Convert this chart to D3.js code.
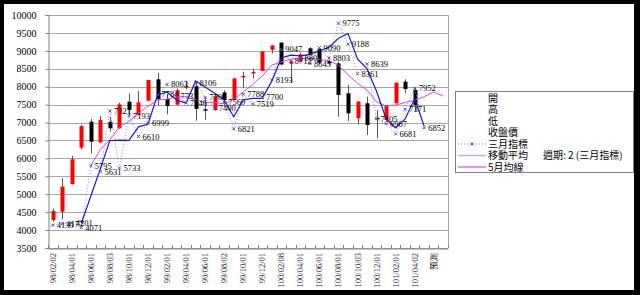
<!DOCTYPE html>
<html>
<head>
<meta charset="utf-8">
<script src="https://cdn.jsdelivr.net/npm/d3@7"></script>
<style>
  body { margin: 0; background: #000; }
  svg { display: block; }
</style>
</head>
<body>
<svg id="chart" width="640" height="295"></svg>
<script>
// month categories (every other one is labelled on the axis)
const categories = [
  '98/02/02', '98/03/02', '98/04/01', '98/05/04', '98/06/01', '98/07/01', '98/08/03', '98/09/01',
  '98/10/01', '98/11/02', '98/12/01', '99/01/04', '99/02/01', '99/03/01', '99/04/01', '99/05/03',
  '99/06/01', '99/07/01', '99/08/02', '99/09/01', '99/10/01', '99/11/01', '99/12/01', '100/01/03',
  '100/02/08', '100/03/01', '100/04/01', '100/05/03', '100/06/01', '100/07/01', '100/08/01', '100/09/01',
  '100/10/03', '100/11/01', '100/12/01', '101/01/02', '101/02/01', '101/03/01', '101/04/02', '101/05/02',
  '預測', ''
];
const openVals  = [4281, 4513, 5285, 6300, 7024, 6450, 7020, 6840, 7582, 7211, 7609, 8206, 7660, 7500, 8000, 8010, 7370, 7350, 7840, 7630, 8290, 8390, 8440, 9030, 9230, 8640, 8700, 9070, 9050, 8700, 8650, 7816, 7118, 7537, 7130, 7071, 7537, 8140, 7908];
const highVals  = [4600, 5450, 6070, 6930, 7100, 7180, 7160, 7550, 7816, 7880, 8190, 8390, 7800, 7950, 8170, 8150, 7700, 7780, 7900, 8250, 8420, 8510, 8990, 9160, 9240, 8720, 8950, 9100, 9070, 8760, 8700, 8047, 7600, 7720, 7350, 7489, 8112, 8206, 7980];
const lowVals   = [4230, 4300, 5270, 6250, 6130, 6430, 6750, 6830, 7210, 7200, 7600, 7490, 7230, 7480, 7930, 7050, 7080, 7330, 7440, 7620, 7980, 8230, 8430, 8930, 8600, 8100, 8690, 8880, 8640, 8600, 7160, 7043, 6950, 6652, 6559, 7060, 7530, 7816, 7300];
const closeVals = [4532, 5210, 5974, 6900, 6466, 7070, 6840, 7508, 7350, 7565, 8186, 7650, 7460, 7900, 8010, 7380, 7360, 7740, 7630, 8230, 8300, 8410, 8980, 9150, 8620, 8700, 8900, 8890, 8670, 8650, 7770, 7258, 7582, 6931, 7118, 7489, 8112, 7935, 7489];

// 三月指標 (one value per month, null = no point)
const indexVals = [4139, 4177, 4201, 4071, 5795, 5631, 7321, 5733, 7193, 6610, 6999, 7784, 8063, 7737, 7546, 8106, 7700, 7400, 7569, 6821, 7788, 7519, 7700, 8193, 9047, 8712, 8803, 8645, 9090, 8803, 9775, 9188, 8361, 8639, 7105, 6967, 6681, 7371, 7952, 6852];
// 移動平均 週期 2 (三月指標)
const maVals = [null, null, null, 4190, 4950, 5713, 6500, 6510, 6500, 6880, 6950, 7770, 7850, 7630, 7540, 8160, 7990, 7820, 7630, 7160, 7630, 7675, 7675, 8150, 8800, 8880, 8860, 8900, 9000, 9100, 9350, 9482, 8775, 8500, 7872, 7100, 6850, 7100, 7662, 6900];
// 5月均線
const avg5Vals = [null, null, null, null, 5800, 6250, 6520, 6880, 7030, 7260, 7450, 7630, 7650, 7720, 7720, 7630, 7560, 7560, 7520, 7650, 7850, 8060, 8300, 8600, 8690, 8770, 8800, 8790, 8760, 8720, 8600, 8330, 8100, 7900, 7580, 7460, 7490, 7560, 7620, 7720, 7850, 7740];

const yTicks = [3500, 4000, 4500, 5000, 5500, 6000, 6500, 7000, 7500, 8000, 8500, 9000, 9500, 10000];

const legendItems = ['開', '高', '低', '收盤價', '三月指標', '移動平均', '5月均線'];

const svg = d3.select('#chart');
const serif = '"Liberation Serif", "DejaVu Serif", serif';
const cjk = '"Noto Sans CJK TC", "Noto Sans CJK SC", sans-serif';

// white chart area inside the black frame
svg.append('rect')
  .attr('x', 4).attr('y', 4)
  .attr('width', 630).attr('height', 286)
  .attr('fill', '#fff');

const plot = { left: 48, right: 448, top: 15, bottom: 248 };

const x = d3.scaleBand()
  .domain(d3.range(categories.length))
  .range([plot.left, plot.right]);

const y = d3.scaleLinear()
  .domain([3500, 10000])
  .range([plot.bottom, plot.top]);

const cx = i => x(i) + x.bandwidth() / 2;

// grid lines
svg.append('g')
  .selectAll('line')
  .data(yTicks)
  .join('line')
  .attr('x1', plot.left).attr('x2', plot.right)
  .attr('y1', d => Math.round(y(d)) + 0.5)
  .attr('y2', d => Math.round(y(d)) + 0.5)
  .attr('stroke', '#a6a6a6');

svg.append('line')
  .attr('x1', plot.right + 0.5).attr('x2', plot.right + 0.5)
  .attr('y1', plot.top).attr('y2', plot.bottom)
  .attr('stroke', '#a6a6a6');

// y axis
const yAxis = svg.append('g')
  .attr('transform', `translate(${plot.left + 0.5},0)`)
  .call(d3.axisLeft(y).tickValues(yTicks).tickSize(3).tickPadding(9).tickFormat(d3.format('d')));
yAxis.select('.domain').attr('stroke', '#808080');
yAxis.selectAll('line').attr('stroke', '#808080');
yAxis.selectAll('text').attr('font-family', serif).attr('font-size', 10).attr('fill', '#000');

// x axis (ticks point into the plot)
const xAxis = svg.append('g')
  .attr('transform', `translate(0,${plot.bottom + 0.5})`)
  .call(d3.axisBottom(x).tickSize(0).tickFormat(''));
xAxis.select('.domain').attr('stroke', '#808080');

svg.append('g')
  .selectAll('line')
  .data(d3.range(categories.length + 1))
  .join('line')
  .attr('x1', i => Math.round(plot.left + i * x.step()) + 0.5)
  .attr('x2', i => Math.round(plot.left + i * x.step()) + 0.5)
  .attr('y1', plot.bottom - 3).attr('y2', plot.bottom)
  .attr('stroke', '#808080');

svg.append('g')
  .selectAll('text')
  .data(d3.range(0, categories.length, 2))
  .join('text')
  .attr('transform', i => `translate(${cx(i) + 3},${plot.bottom + 5}) rotate(-90)`)
  .attr('text-anchor', 'end')
  .attr('font-family', i => categories[i] === '預測' ? cjk : serif)
  .attr('font-size', 8.5)
  .attr('fill', '#222')
  .text(i => categories[i]);

// candlesticks
const candles = svg.append('g')
  .selectAll('g')
  .data(openVals.map((o, i) => ({ i, o, h: highVals[i], l: lowVals[i], c: closeVals[i] })))
  .join('g');

candles.append('line')
  .attr('x1', d => Math.round(cx(d.i)) + 0.5)
  .attr('x2', d => Math.round(cx(d.i)) + 0.5)
  .attr('y1', d => y(d.h)).attr('y2', d => y(d.l))
  .attr('stroke', '#555');

candles.append('rect')
  .attr('x', d => Math.round(cx(d.i)) - 1.5)
  .attr('width', 4)
  .attr('y', d => y(Math.max(d.o, d.c)))
  .attr('height', d => Math.max(1.5, Math.abs(y(d.o) - y(d.c))))
  .attr('fill', d => d.c >= d.o ? '#ff0000' : '#000');

// 5月均線
const line = d3.line()
  .defined(d => d.v != null)
  .x(d => cx(d.i))
  .y(d => y(d.v));

svg.append('path')
  .datum(avg5Vals.map((v, i) => ({ i, v })))
  .attr('d', line)
  .attr('fill', 'none')
  .attr('stroke', '#e040e0')
  .attr('stroke-width', 1);

// 三月指標 dotted line
svg.append('path')
  .datum(indexVals.map((v, i) => ({ i, v })))
  .attr('d', line)
  .attr('fill', 'none')
  .attr('stroke', '#8c8cd8')
  .attr('stroke-width', 1)
  .attr('stroke-dasharray', '1,2');

// moving average
svg.append('path')
  .datum(maVals.map((v, i) => ({ i, v })))
  .attr('d', line)
  .attr('fill', 'none')
  .attr('stroke', '#1a1acc')
  .attr('stroke-width', 1.2);

// markers + labels
const marks = svg.append('g')
  .selectAll('g')
  .data(indexVals.map((v, i) => ({ i, v })).filter(d => d.v != null))
  .join('g')
  .attr('transform', d => `translate(${cx(d.i)},${y(d.v)})`);

marks.append('path')
  .attr('d', 'M-1.5,-1.5L1.5,1.5M-1.5,1.5L1.5,-1.5')
  .attr('stroke', '#4b4bd0')
  .attr('stroke-width', 1);

marks.append('text')
  .attr('x', 4)
  .attr('dy', '0.35em')
  .attr('font-family', serif)
  .attr('font-size', 8.5)
  .text(d => d.v);

// legend
const lg = svg.append('g');
lg.append('rect')
  .attr('x', 455.5).attr('y', 91.5)
  .attr('width', 178).attr('height', 81)
  .attr('fill', '#fff')
  .attr('stroke', '#808080');

const rowY = i => 98 + i * 11.5;

lg.selectAll('text.item')
  .data(legendItems)
  .join('text')
  .attr('class', 'item')
  .attr('x', 488)
  .attr('y', (d, i) => rowY(i))
  .attr('dy', '0.35em')
  .attr('font-family', cjk)
  .attr('font-size', 10)
  .text(d => d);

lg.append('text')
  .attr('x', 543).attr('y', rowY(5)).attr('dy', '0.35em')
  .attr('font-family', cjk).attr('font-size', 10)
  .text('週期: 2 (三月指標)');

lg.append('line')
  .attr('x1', 458).attr('x2', 486).attr('y1', rowY(4)).attr('y2', rowY(4))
  .attr('stroke', '#8c8cd8').attr('stroke-dasharray', '1,2');
lg.append('path')
  .attr('transform', `translate(472,${rowY(4)})`)
  .attr('d', 'M-1.5,-1.5L1.5,1.5M-1.5,1.5L1.5,-1.5')
  .attr('stroke', '#4b4bd0');
lg.append('line')
  .attr('x1', 458).attr('x2', 486).attr('y1', rowY(5)).attr('y2', rowY(5))
  .attr('stroke', '#b4b4e4').attr('stroke-width', 1.5);
lg.append('line')
  .attr('x1', 458).attr('x2', 486).attr('y1', rowY(6)).attr('y2', rowY(6))
  .attr('stroke', '#e070e0').attr('stroke-width', 1.5);
</script>
</body>
</html>
